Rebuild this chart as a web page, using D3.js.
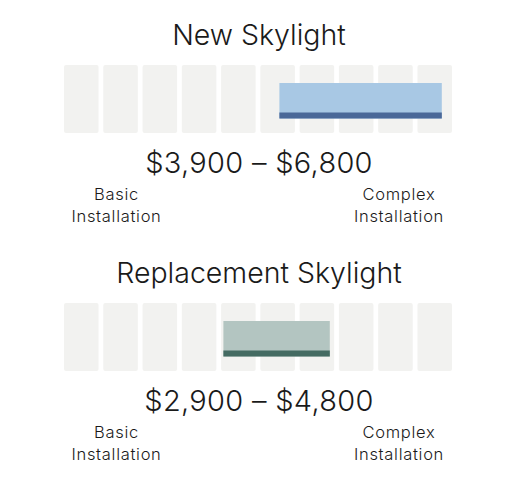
<!DOCTYPE html>
<html>
<head>
<meta charset="utf-8">
<script src="https://cdn.jsdelivr.net/npm/d3@7"></script>
<style>
  html, body { margin: 0; padding: 0; background: #fff; }
  svg { display: block; }
  text { font-family: Inter, "Noto Sans", sans-serif; fill: #1a1a1a; }
</style>
</head>
<body>
<svg id="chart" width="517" height="483"></svg>
<script>
const titles = ["New Skylight", "Replacement Skylight"];
const lowValues = [3900, 2900];
const highValues = [6800, 4800];
const lowLabel = ["Basic", "Installation"];
const highLabel = ["Complex", "Installation"];
const cells = d3.range(10);
const scaleDomain = [0, 7000];
const lightColors = ["#a8c8e4", "#b3c5c1"];
const darkColors = ["#4a6898", "#446b62"];

const svg = d3.select("#chart");
const x = d3.scaleLinear().domain(scaleDomain).range([61, 453]);
const band = d3.scaleBand().domain(cells).range([64, 452]).paddingInner(0.12);
const fmt = d3.format(",");

const panels = titles.map((t, i) => ({ title: t, low: lowValues[i], high: highValues[i], i }));

const g = svg.selectAll("g.panel").data(panels).join("g")
  .attr("class", "panel")
  .attr("transform", d => `translate(0,${d.i * 238})`);

g.append("text")
  .attr("x", 259).attr("y", 45)
  .attr("text-anchor", "middle")
  .style("font-size", "28.5px").style("font-weight", 300)
  .text(d => d.title);

g.selectAll("rect.cell").data(cells).join("rect")
  .attr("class", "cell")
  .attr("x", c => band(c)).attr("y", 65)
  .attr("width", band.bandwidth()).attr("height", 68)
  .attr("rx", 2)
  .attr("fill", "#f2f2f0");

g.append("rect")
  .attr("x", d => x(d.low)).attr("y", 83)
  .attr("width", d => x(d.high) - x(d.low)).attr("height", 35.5)
  .attr("fill", d => lightColors[d.i]);

g.append("rect")
  .attr("x", d => x(d.low)).attr("y", 112.5)
  .attr("width", d => x(d.high) - x(d.low)).attr("height", 6)
  .attr("fill", d => darkColors[d.i]);

g.append("text")
  .attr("x", 259).attr("y", 173)
  .attr("text-anchor", "middle")
  .style("font-size", "29px").style("font-weight", 300)
  .style("letter-spacing", "0.3px")
  .text(d => `$${fmt(d.low)} \u2013 $${fmt(d.high)}`);

const lbl = (sel, xPos, lines) => {
  sel.append("text")
    .attr("x", xPos).attr("y", 200)
    .attr("text-anchor", "middle")
    .style("font-size", "16.5px").style("font-weight", 300)
    .style("letter-spacing", "0.7px")
    .selectAll("tspan").data(lines).join("tspan")
    .attr("x", xPos).attr("dy", (l, k) => k === 0 ? 0 : 21.5)
    .text(l => l);
};
lbl(g, 116.5, lowLabel);
lbl(g, 399, highLabel);
</script>
</body>
</html>
